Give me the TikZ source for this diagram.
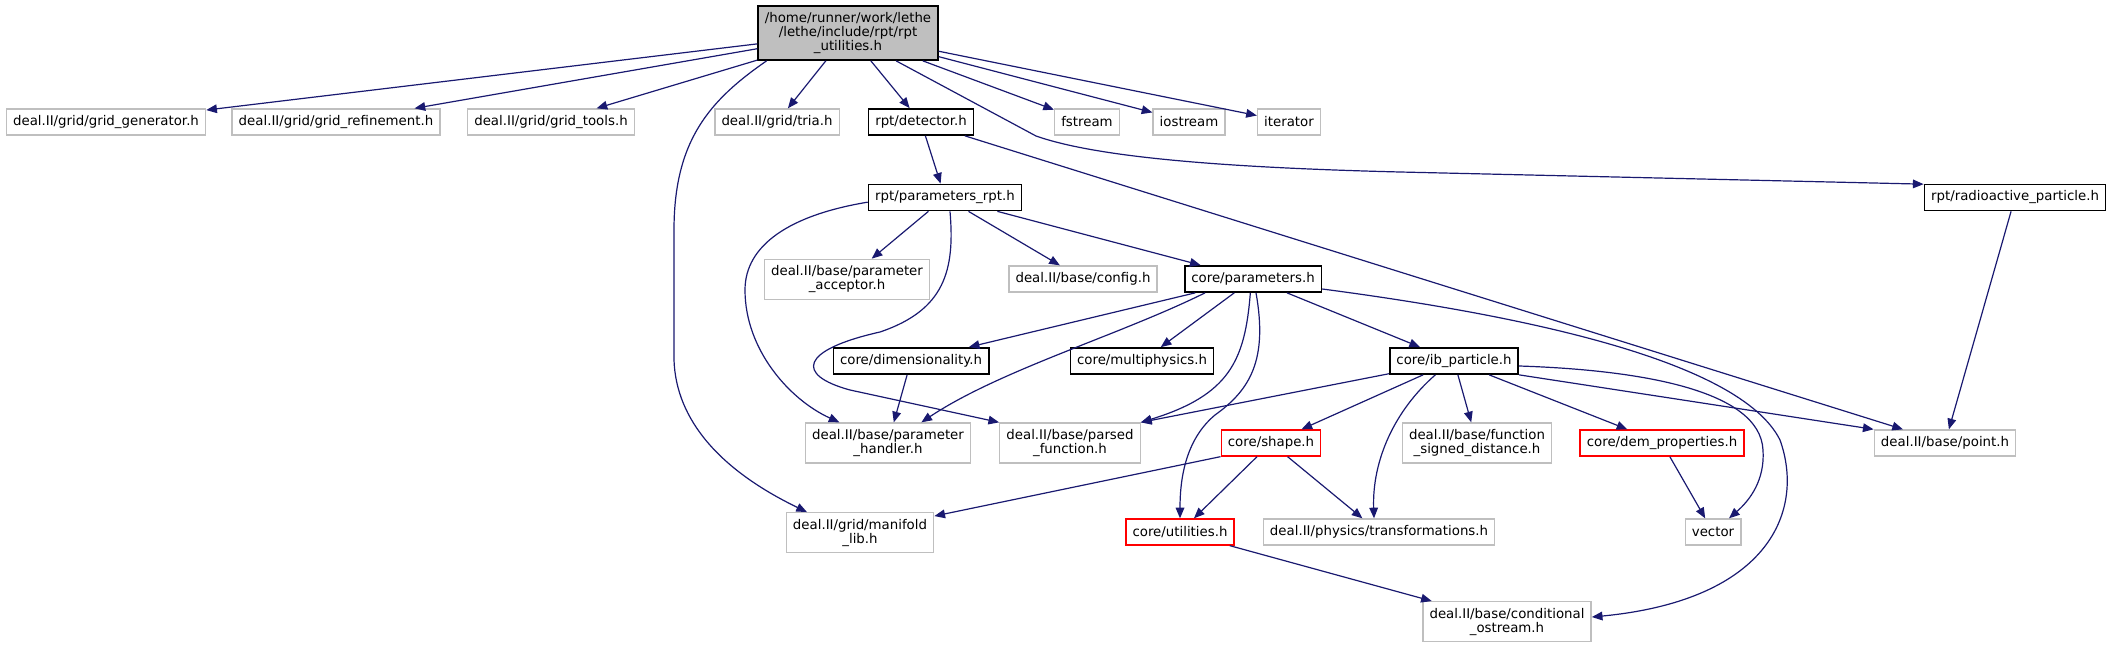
\documentclass[tikz,border=0pt]{standalone}
\usepackage{fontspec}
\setmainfont{DejaVu Sans}
\usepackage{tikz}
\usetikzlibrary{arrows.meta}
\definecolor{dxedge}{RGB}{25,25,112}
\definecolor{dxgray}{RGB}{191,191,191}
\definecolor{dxred}{RGB}{255,0,0}
\tikzset{
  fbox/.style={rectangle,draw=#1,fill=white,line width=1pt,
               minimum height=19.5pt,inner xsep=5pt,inner ysep=4.75pt,
               font=\fontsize{10}{10.5}\selectfont,align=center},
  fbox/.default=dxgray,
  kbox/.style={fbox=black,line width=1.3pt},
  arr/.style={-{Triangle[length=8pt,width=6.5pt]},line width=0.9pt,dxedge},
}
\begin{document}
\begin{tikzpicture}[x=0.75pt,y=-0.75pt]
    \useasboundingbox (0,0) rectangle (2113,648);
    \node[kbox,fill=dxgray] (root) at (848,33)
          {/home/runner/work/lethe\\/lethe/include/rpt/rpt\\\_utilities.h};
    \foreach \n/\x/\lab in {
      gen/106/{deal.II/grid/grid\_generator.h},
      ref/336/{deal.II/grid/grid\_refinement.h},
      tools/551/{deal.II/grid/grid\_tools.h}, tria/777/{deal.II/grid/tria.h},
      fstream/1087/fstream, iostream/1189/iostream, iterator/1289/iterator}{
      \node[fbox] (\n) at (\x,122) {\lab};
    }
    \node[kbox] (detector) at (921,122) {rpt/detector.h};
    \node[kbox] (prpt) at (945,197.5) {rpt/parameters\_rpt.h};
    \node[kbox] (radio) at (2015,197.5) {rpt/radioactive\_particle.h};
    \node[fbox] (acceptor) at (847,279.3) {deal.II/base/parameter\\\_acceptor.h};
    \node[fbox] (config) at (1083,279) {deal.II/base/config.h};
    \node[kbox] (params) at (1253,279) {core/parameters.h};
    \node[kbox] (dim) at (911,361) {core/dimensionality.h};
    \node[kbox] (multi) at (1142,361) {core/multiphysics.h};
    \node[kbox] (ib) at (1454,361) {core/ib\_particle.h};
    \node[fbox] (handler) at (888,443) {deal.II/base/parameter\\\_handler.h};
    \node[fbox] (parsed) at (1070,443) {deal.II/base/parsed\\\_function.h};
    \node[fbox=dxred] (shape) at (1271,443) {core/shape.h};
    \node[fbox] (sdist) at (1477,443) {deal.II/base/function\\\_signed\_distance.h};
    \node[fbox=dxred] (dem) at (1662,443) {core/dem\_properties.h};
    \node[fbox] (point) at (1945,443) {deal.II/base/point.h};
    \node[fbox] (manifold) at (860,532.7) {deal.II/grid/manifold\\\_lib.h};
    \node[fbox=dxred] (util) at (1180,532) {core/utilities.h};
    \node[fbox] (trans) at (1379,532) {deal.II/physics/transformations.h};
    \node[fbox] (vector) at (1713,532) {vector};
    \node[fbox] (cond) at (1507,621.7) {deal.II/base/conditional\\\_ostream.h};

    \foreach \n in {gen,ref,tools,tria,detector,fstream,iostream,iterator}
      \draw[arr] (root) -- (\n);
    \draw[arr] ([xshift=7pt]root.south west) .. controls (710,100) and (674,140)
          .. (674,230) -- (674,360) .. controls (676,420) and (720,470)
          .. ([xshift=16pt]manifold.north west);
    \draw[arr] ([xshift=-32pt]root.south east) -- (1036,136)
          .. controls (1090,155) and (1200,167) .. (1400,172)
          -- ([yshift=10pt]radio.west);
    \draw[arr] (detector) -- (prpt);
    \draw[arr] ([xshift=-7pt]detector.south east) -- ([xshift=22pt]point.north west);
    \draw[arr] (radio) -- (point);

    \draw[arr] (prpt) -- (acceptor);
    \draw[arr] (prpt) -- (config);
    \draw[arr] (prpt) -- (params);
    \draw[arr] ([yshift=-3.5pt]prpt.west) .. controls (790,215) and (745,245)
          .. (745,290) .. controls (745,350) and (790,400)
          .. ([xshift=26pt]handler.north west);
    \draw[arr] ([xshift=3.75pt]prpt.south) .. controls (955,270) and (945,310)
          .. (880,332) .. controls (800,350) and (795,375) .. (850,390)
          -- (parsed.north west);

    \draw[arr] (params) -- (dim);
    \draw[arr] (params) -- (multi);
    \draw[arr] (params) -- (ib);
    \draw[arr] ([xshift=-36pt]params.south) .. controls (1120,335) and (1000,370)
          .. ([xshift=25pt]handler.north);
    \draw[arr] ([xshift=-2pt]params.south) .. controls (1245,360) and (1230,395)
          .. (parsed.north east);
    \draw[arr] ([xshift=2.25pt]params.south) .. controls (1268,360) and (1250,390)
          .. (1215,415) .. controls (1185,440) and (1180,480) .. (util.north);
    \draw[arr] ([yshift=-7.5pt]params.east) .. controls (1520,315) and (1740,360)
          .. (1780,440) .. controls (1805,510) and (1770,600)
          .. ([yshift=3.5pt]cond.east);
    \draw[arr] (dim) -- (handler);

    \draw[arr] (ib) -- (parsed.north east);
    \draw[arr] (ib) -- (shape);
    \draw[arr] ([xshift=-14pt]ib.south) .. controls (1395,410) and (1372,460)
          .. ([xshift=-3.75pt]trans.north);
    \draw[arr] (ib) -- (sdist);
    \draw[arr] (ib) -- (dem);
    \draw[arr] ([yshift=-3.75pt]ib.east) .. controls (1640,370) and (1760,390)
          .. (1763,450) .. controls (1765,480) and (1750,500)
          .. ([xshift=12pt]vector.north);
    \draw[arr] (ib.south east) -- (point.north west);

    \draw[arr] (shape.south west) -- ([yshift=-3pt]manifold.north east);
    \draw[arr] (shape) -- (util);
    \draw[arr] (shape) -- (trans);
    \draw[arr] (dem) -- (vector);
    \draw[arr] (util) -- (cond);
  \end{tikzpicture}
\end{document}
